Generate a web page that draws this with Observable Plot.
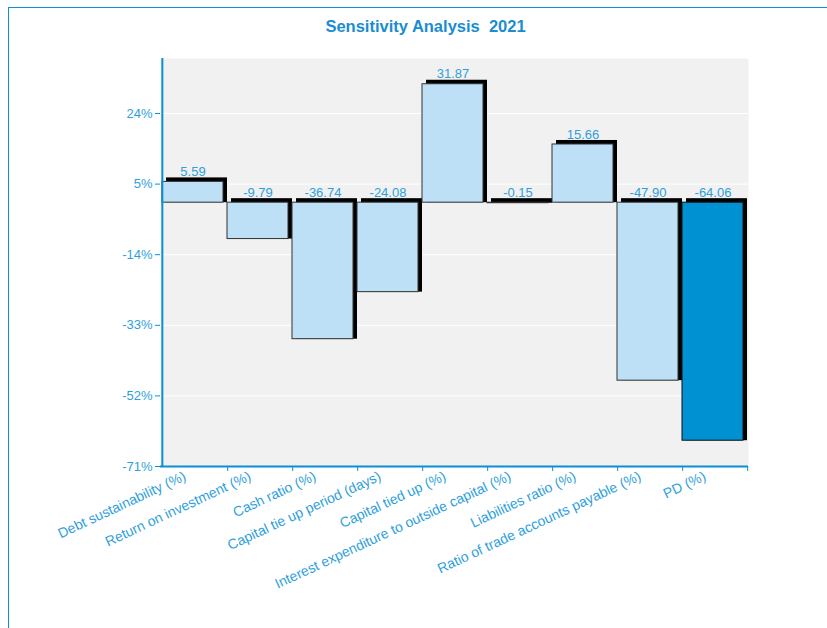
<!DOCTYPE html>
<html>
<head>
<meta charset="utf-8">
<script src="https://cdn.jsdelivr.net/npm/d3@7"></script>
<script src="https://cdn.jsdelivr.net/npm/@observablehq/plot@0.6"></script>
<style>
  body { margin: 0; background: #fff; }
  #wrap { position: relative; width: 827px; height: 628px; overflow: hidden; font-family: "Liberation Sans", Arial, sans-serif; }
  #edge { position: absolute; left: 8px; top: 7px; right: 0; bottom: 0; border-left: 1.5px solid #0a8fd4; border-top: 1.5px solid #0a8fd4; }
  #title { position: absolute; top: 17px; left: 12px; width: 827px; text-align: center; font-weight: bold; font-size: 16.5px; color: #1a8cd0; white-space: pre; }
  #chart { position: absolute; left: 0; top: 0; }
</style>
</head>
<body>
<div id="wrap">
  <div id="edge"></div>
  <div id="title">Sensitivity Analysis  2021</div>
  <div id="chart"></div>
</div>
<script>
// Sensitivity of the rating result to each indicator, 2021
const indicators = [
  "Debt sustainability (%)",
  "Return on investment (%)",
  "Cash ratio (%)",
  "Capital tie up period (days)",
  "Capital tied up (%)",
  "Interest expenditure to outside capital (%)",
  "Liabilities ratio (%)",
  "Ratio of trade accounts payable (%)",
  "PD (%)"
];
const changes = [5.59, -9.79, -36.74, -24.08, 31.87, -0.15, 15.66, -47.90, -64.06];
const highlighted = "PD (%)";
const yTicks = [24, 5, -14, -33, -52, -71];
const yDomain = [-71, 38.8];

const data = indicators.map((name, i) => ({name, value: changes[i]}));

const W = 827, H = 628;
const mLeft = 160, mRight = 79, mTop = 58, mBottom = 162;
const band = (W - mLeft - mRight) / indicators.length;

const axisBlue = "#0a8fd4";
const textBlue = "#2f9fdc";
const barLight = "#bee0f6";
const barDark = "#0091d2";
const depth = 4;

const chart = Plot.plot({
  width: W,
  height: H,
  marginLeft: mLeft,
  marginRight: mRight,
  marginTop: mTop,
  marginBottom: mBottom,
  style: {fontFamily: "'Liberation Sans', Arial, sans-serif", fontSize: "13px", background: "transparent"},
  x: {domain: indicators, padding: 0},
  y: {domain: yDomain},
  marks: [
    Plot.frame({fill: "#f1f1f1", stroke: "none"}),
    Plot.gridY(yTicks, {stroke: "white", strokeOpacity: 1, strokeWidth: 1}),
    // extruded depth behind each bar: raised above its top edge and pushed right
    Plot.barY(data, {x: "name", y: "value", fill: "black", insetRight: depth, insetTop: -depth, dx: depth}),
    Plot.barY(data.filter(d => d.name !== highlighted), {x: "name", y: "value", fill: barLight, stroke: "#333", strokeWidth: 1, insetRight: depth}),
    Plot.barY(data.filter(d => d.name === highlighted), {x: "name", y: "value", fill: barDark, stroke: "#111", strokeWidth: 1, insetRight: depth}),
    Plot.text(data, {
      x: "name",
      y: d => Math.max(d.value, 0),
      text: d => d.value.toFixed(2),
      dx: -depth / 2,
      dy: -10,
      fill: textBlue,
      fontSize: 13
    }),
    Plot.axisY(yTicks, {
      tickFormat: d => d + "%",
      tickSize: 5,
      tickPadding: 3,
      stroke: axisBlue,
      fill: textBlue,
      fontSize: 13,
      label: null
    }),
    Plot.axisX({
      tickSize: 0,
      tickPadding: 9,
      tickRotate: -25,
      dx: -10,
      fill: textBlue,
      fontSize: 14,
      label: null
    }),
    // tick marks at the band boundaries
    Plot.axisX({
      tickSize: 5,
      tickFormat: () => "",
      dx: band / 2,
      stroke: axisBlue,
      label: null
    }),
    Plot.ruleY([yDomain[0]], {stroke: axisBlue, strokeWidth: 2}),
    Plot.ruleX([indicators[0]], {dx: -band / 2, stroke: axisBlue, strokeWidth: 2})
  ]
});

document.getElementById("chart").append(chart);
</script>
</body>
</html>
